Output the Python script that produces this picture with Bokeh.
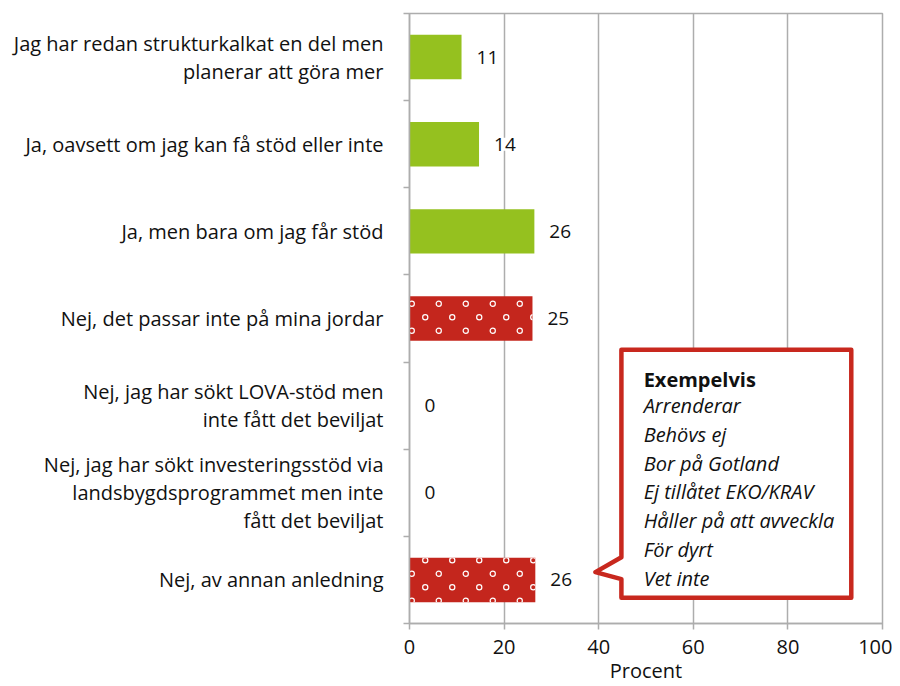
import base64
from bokeh.plotting import figure
from bokeh.models import (ColumnDataSource, Range1d, FixedTicker, LabelSet, Label,
                          PolyAnnotation, ImageURLTexture)
from bokeh.core.properties import value
from bokeh.embed import file_html
from bokeh.resources import INLINE

categories = [
    "Jag har redan strukturkalkat en del men\nplanerar att göra mer",
    "Ja, oavsett om jag kan få stöd eller inte",
    "Ja, men bara om jag får stöd",
    "Nej, det passar inte på mina jordar",
    "Nej, jag har sökt LOVA-stöd men\ninte fått det beviljat",
    "Nej, jag har sökt investeringsstöd via\nlandsbygdsprogrammet men inte\nfått det beviljat",
    "Nej, av annan anledning",
]
values = [11.0, 14.7, 26.4, 26.0, 0.0, 0.0, 26.6]
value_labels = ["11", "14", "26", "25", "0", "0", "26"]
groups = ["ja", "ja", "ja", "nej", "nej", "nej", "nej"]
x_ticks = [0, 20, 40, 60, 80, 100]
x_title = "Procent"
callout_title = "Exempelvis"
callout_items = ["Arrenderar", "Behövs ej", "Bor på Gotland", "Ej tillåtet  EKO/KRAV",
                 "Håller på att avveckla", "För dyrt", "Vet inte"]

FONT = "Open Sans"
GREEN = "#95c11f"
RED = "#c4261d"
GRID = "#adadad"
TXT = "#111111"

# staggered ring texture for the "Nej" bars
tile_svg = ('<svg xmlns="http://www.w3.org/2000/svg" width="27" height="27">'
            '<g fill="none" stroke="white" stroke-width="1.2">'
            '<circle cx="6.75" cy="6.75" r="2.6"/><circle cx="20.25" cy="20.25" r="2.6"/>'
            '</g></svg>')
tile_url = "data:image/svg+xml;base64," + base64.b64encode(tile_svg.encode()).decode()

n = len(categories)
centers = [n - 0.5 - i for i in range(n)]
bounds = list(range(n + 1))

src = ColumnDataSource(dict(
    y=centers, v=values, lab=value_labels,
    color=[GREEN if g == "ja" else RED for g in groups],
    hatch=[" " if g == "ja" else "rings" for g in groups],
))

p = figure(width=892, height=686, output_backend="svg", toolbar_location=None,
           x_range=Range1d(0, 100), y_range=Range1d(0, n),
           min_border_left=409, min_border_right=10, min_border_top=13, min_border_bottom=56)
p.outline_line_color = GRID
p.outline_line_width = 1.5
p.background_fill_color = "white"

p.hbar(y="y", right="v", left=0, height=0.51, source=src, fill_color="color",
       line_color=None, hatch_pattern="hatch",
       hatch_extra={"rings": ImageURLTexture(url=tile_url, repetition="repeat")})

labels = LabelSet(x="v", y="y", text="lab", source=src, x_offset=15,
                  text_baseline="middle", text_align="left", text_font=value(FONT),
                  text_font_size="19px", text_color=TXT,
                  background_fill_color="white")
p.add_layout(labels)

# x axis
p.xaxis.ticker = FixedTicker(ticks=x_ticks)
p.xaxis.axis_label = x_title
p.xaxis.axis_label_text_font = FONT
p.xaxis.axis_label_text_font_style = "normal"
p.xaxis.axis_label_text_font_size = "20px"
p.xaxis.axis_label_text_color = TXT
p.xaxis.axis_label_standoff = 0
p.xaxis.major_label_text_font = FONT
p.xaxis.major_label_text_font_size = "20px"
p.xaxis.major_label_text_color = TXT
p.xaxis.major_label_standoff = 10
p.xaxis.axis_line_color = GRID
p.xaxis.axis_line_width = 1.5
p.xaxis.major_tick_line_color = GRID
p.xaxis.major_tick_line_width = 1.5
p.xaxis.major_tick_out = 6
p.xaxis.major_tick_in = 0
p.xaxis.minor_tick_line_color = None

# y axis
p.yaxis.ticker = FixedTicker(ticks=centers, minor_ticks=bounds)
p.yaxis.major_label_overrides = {c: lab for c, lab in zip(centers, categories)}
p.yaxis.major_label_text_font = FONT
p.yaxis.major_label_text_font_size = "20px"
p.yaxis.major_label_text_line_height = 1.04
p.yaxis.major_label_text_color = TXT
p.yaxis.major_label_text_align = "right"
p.yaxis.major_label_standoff = 20
p.yaxis.major_tick_line_color = None
p.yaxis.minor_tick_line_color = GRID
p.yaxis.minor_tick_line_width = 1.5
p.yaxis.minor_tick_out = 6
p.yaxis.minor_tick_in = 0
p.yaxis.axis_line_color = GRID
p.yaxis.axis_line_width = 1.5

p.xgrid.grid_line_color = GRID
p.xgrid.grid_line_width = 1.5
p.ygrid.grid_line_color = None

# callout
bx0, bx1, by0, by1 = 44.8, 93.4, 0.295, 3.14
tipx, tipy = 39.3, 0.59
poly = PolyAnnotation(
    xs=[bx0, bx0, bx1, bx1, bx0, bx0, tipx],
    ys=[0.76, by1, by1, by0, by0, 0.51, tipy],
    fill_color="white", fill_alpha=1.0, line_color="#c8281e", line_alpha=1.0,
    line_width=4.5, line_join="round")
p.add_layout(poly)

p.add_layout(Label(x=49.5, y=by1, y_offset=-30, text=callout_title, text_font=FONT,
                   text_font_size="20px", text_font_style="bold", text_baseline="middle",
                   text_color=TXT))
for i, item in enumerate(callout_items):
    p.add_layout(Label(x=49.5, y=by1, y_offset=-56 - i * 28.7, text=item, text_font=FONT,
                       text_font_size="20px", text_font_style="italic",
                       text_baseline="middle", text_color=TXT))

open("out.html", "w").write(file_html(p, INLINE))
